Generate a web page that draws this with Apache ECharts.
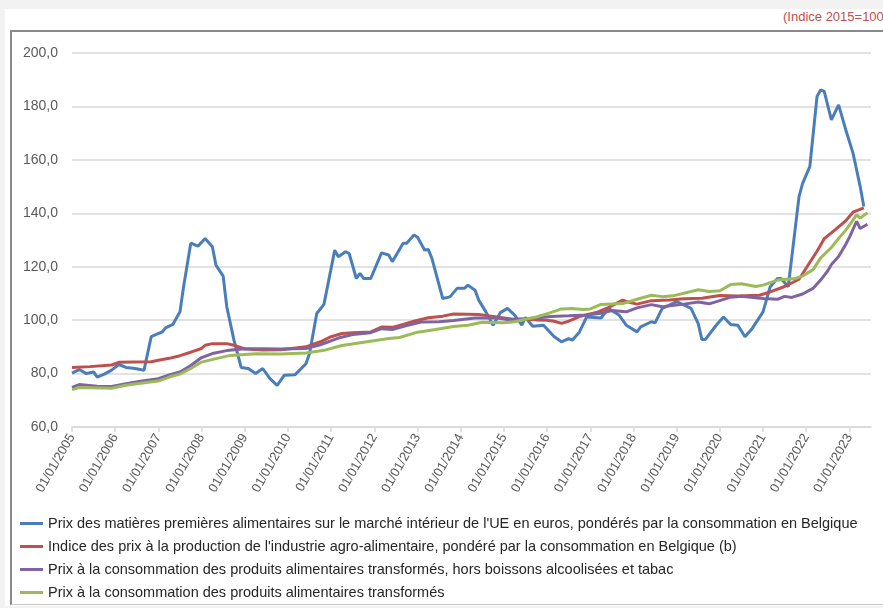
<!DOCTYPE html>
<html lang="fr">
<head>
<meta charset="utf-8">
<title>Indices des prix agro-alimentaires</title>
<script src="https://cdn.jsdelivr.net/npm/echarts@6/dist/echarts.min.js"></script>
<style>
  html, body { margin: 0; padding: 0; width: 883px; height: 608px; overflow: hidden; background: #f2f2f2; }
  #sheet { position: absolute; left: 5px; top: 9px; width: 900px; height: 597px; background: #fff; }
  #frame { position: absolute; left: 10px; top: 30px; width: 900px; height: 572px;
           border-top: 2px solid #8a8a8a; border-left: 2px solid #8a8a8a; border-bottom: 1px solid #c8c8c8; }
  #unit { position: absolute; left: 783px; top: 9px; font: 13px "Liberation Sans", sans-serif; color: #c0504d; white-space: nowrap; }
  #chart { position: absolute; left: 0; top: 0; width: 883px; height: 608px; }
</style>
</head>
<body>
<div id="sheet"></div>
<div id="frame"></div>
<div id="unit">(Indice 2015=100)</div>
<div id="chart"></div>
<script type="text/javascript">
// noms des séries
var names = [
    "Prix des matières premières alimentaires sur le marché intérieur de l'UE en euros, pondérés par la consommation en Belgique",
    "Indice des prix à la production de l'industrie agro-alimentaire, pondéré par la consommation en Belgique (b)",
    "Prix à la consommation des produits alimentaires transformés, hors boissons alcoolisées et tabac",
    "Prix à la consommation des produits alimentaires transformés"
];
var colors = ['#4a7ebb', '#c0504d', '#8064a2', '#9bbb59'];

// graduations de l'axe des dates (01/01/annee)
var yearTicks = [2005, 2006, 2007, 2008, 2009, 2010, 2011, 2012, 2013, 2014,
                 2015, 2016, 2017, 2018, 2019, 2020, 2021, 2022, 2023];

// matières premières (mois, indice)
var rawMat = [
    ['2005-01', 80.2], ['2005-03', 81.5], ['2005-05', 80.0], ['2005-07', 80.6], ['2005-08', 78.7],
    ['2005-10', 79.8], ['2005-12', 81.3], ['2006-02', 83.4], ['2006-04', 82.3], ['2006-06', 82.0],
    ['2006-08', 81.5], ['2006-09', 81.2], ['2006-11', 93.8], ['2007-01', 95.0], ['2007-02', 95.5],
    ['2007-03', 97.1], ['2007-05', 98.4], ['2007-07', 103.1], ['2007-08', 112.5], ['2007-10', 128.8],
    ['2007-12', 127.7], ['2008-02', 130.6], ['2008-04', 127.5], ['2008-05', 120.6], ['2008-07', 116.5],
    ['2008-08', 105.0], ['2008-10', 92.5], ['2008-12', 82.3], ['2009-02', 81.9], ['2009-04', 80.0],
    ['2009-06', 81.9], ['2009-08', 78.1], ['2009-10', 75.6], ['2009-12', 79.4], ['2010-03', 79.6],
    ['2010-06', 83.7], ['2010-07', 87.5], ['2010-09', 102.5], ['2010-11', 105.9], ['2011-02', 126.2],
    ['2011-03', 123.7], ['2011-05', 125.6], ['2011-06', 125.0], ['2011-08', 115.6], ['2011-09', 117.5],
    ['2011-10', 115.6], ['2011-12', 115.6], ['2012-03', 125.2], ['2012-05', 124.4], ['2012-06', 121.9],
    ['2012-09', 128.8], ['2012-10', 128.8], ['2012-12', 131.9], ['2013-01', 131.0], ['2013-03', 126.2],
    ['2013-04', 126.5], ['2013-05', 123.1], ['2013-08', 108.1], ['2013-10', 108.7], ['2013-12', 111.9],
    ['2014-02', 111.9], ['2014-03', 113.1], ['2014-05', 111.2], ['2014-06', 107.5], ['2014-08', 103.1],
    ['2014-10', 98.1], ['2014-12', 102.8], ['2015-02', 104.4], ['2015-04', 101.9], ['2015-06', 98.1],
    ['2015-07', 101.0], ['2015-09', 97.7], ['2015-12', 98.1], ['2016-03', 93.8], ['2016-05', 91.9],
    ['2016-07', 93.1], ['2016-08', 92.5], ['2016-10', 95.6], ['2016-12', 101.2], ['2017-02', 101.0],
    ['2017-04', 100.8], ['2017-06', 104.4], ['2017-09', 101.9], ['2017-11', 98.1], ['2018-02', 95.6],
    ['2018-03', 97.5], ['2018-06', 99.4], ['2018-07', 99.0], ['2018-09', 104.4], ['2018-11', 105.6],
    ['2019-01', 106.9], ['2019-05', 104.4], ['2019-07', 98.7], ['2019-08', 92.8], ['2019-09', 92.8],
    ['2019-12', 98.1], ['2020-02', 101.2], ['2020-04', 98.4], ['2020-06', 98.1], ['2020-08', 93.8],
    ['2020-10', 96.9], ['2021-01', 103.1], ['2021-03', 112.5], ['2021-05', 115.6], ['2021-06', 115.6],
    ['2021-08', 112.5], ['2021-09', 123.7], ['2021-11', 146.2], ['2021-12', 151.2], ['2022-02', 157.5],
    ['2022-04', 183.7], ['2022-05', 186.2], ['2022-06', 185.6], ['2022-08', 175.0], ['2022-10', 180.6],
    ['2022-12', 171.2], ['2023-02', 162.5], ['2023-04', 150.0], ['2023-05', 142.5]
];

// prix à la production
var production = [
    ['2005-01', 82.3], ['2005-06', 82.6], ['2005-12', 83.2], ['2006-02', 84.2], ['2006-06', 84.3],
    ['2006-11', 84.4], ['2007-01', 85.0], ['2007-04', 85.7], ['2007-07', 86.7], ['2007-10', 88.0],
    ['2008-01', 89.4], ['2008-02', 90.6], ['2008-04', 91.2], ['2008-08', 91.2], ['2008-10', 90.6],
    ['2009-01', 89.2], ['2009-06', 88.8], ['2009-11', 88.9], ['2010-02', 89.4], ['2010-06', 90.0],
    ['2010-10', 91.9], ['2011-01', 93.8], ['2011-04', 95.0], ['2011-07', 95.3], ['2011-12', 95.6],
    ['2012-03', 97.4], ['2012-06', 97.3], ['2012-09', 98.4], ['2012-12', 99.6], ['2013-04', 100.9],
    ['2013-08', 101.5], ['2013-11', 102.3], ['2014-03', 102.2], ['2014-06', 102.1], ['2014-09', 101.6],
    ['2014-12', 101.0], ['2015-03', 100.4], ['2015-06', 100.3], ['2015-10', 100.1], ['2016-01', 100.0],
    ['2016-03', 99.6], ['2016-05', 98.8], ['2016-07', 99.6], ['2016-10', 101.3], ['2016-12', 102.0],
    ['2017-03', 103.0], ['2017-06', 104.7], ['2017-10', 107.5], ['2017-11', 107.0], ['2018-02', 106.0],
    ['2018-06', 107.3], ['2018-11', 107.5], ['2019-03', 108.0], ['2019-08', 108.2], ['2020-01', 109.2],
    ['2020-06', 109.0], ['2020-12', 109.3], ['2021-03', 110.6], ['2021-07', 112.6], ['2021-11', 115.3],
    ['2022-01', 119.5], ['2022-04', 125.8], ['2022-06', 130.5], ['2022-09', 133.8], ['2022-12', 137.2],
    ['2023-02', 140.4], ['2023-05', 142.0]
];

// consommation hors boissons alcoolisées et tabac
var consoHors = [
    ['2005-01', 74.8], ['2005-03', 75.9], ['2005-08', 75.3], ['2005-12', 75.2], ['2006-04', 76.2],
    ['2006-08', 77.1], ['2007-01', 78.1], ['2007-04', 79.5], ['2007-07', 80.6], ['2007-10', 83.0],
    ['2008-01', 86.0], ['2008-04', 87.5], ['2008-08', 88.6], ['2009-01', 89.3], ['2009-06', 89.3],
    ['2009-11', 89.2], ['2010-06', 89.4], ['2010-10', 90.8], ['2011-03', 93.3], ['2011-07', 94.6],
    ['2011-12', 95.3], ['2012-03', 96.8], ['2012-06', 96.5], ['2012-10', 98.0], ['2013-02', 99.3],
    ['2013-07', 99.4], ['2013-11', 99.9], ['2014-05', 100.8], ['2014-11', 100.8], ['2015-02', 100.2],
    ['2015-08', 100.5], ['2016-02', 101.4], ['2016-07', 101.6], ['2016-12', 101.9], ['2017-04', 102.6],
    ['2017-07', 103.6], ['2017-11', 103.1], ['2018-02', 104.6], ['2018-06', 105.8], ['2018-09', 105.0],
    ['2019-03', 106.0], ['2019-07', 106.8], ['2019-10', 106.1], ['2020-01', 107.3], ['2020-04', 108.6],
    ['2020-07', 108.9], ['2020-11', 108.4], ['2021-01', 108.1], ['2021-05', 107.8], ['2021-07', 108.9],
    ['2021-09', 108.5], ['2021-12', 109.8], ['2022-03', 112.0], ['2022-05', 115.0], ['2022-07', 118.5],
    ['2022-08', 120.8], ['2022-10', 123.8], ['2022-12', 128.4], ['2023-01', 131.0], ['2023-03', 137.0],
    ['2023-04', 134.3], ['2023-06', 135.9]
];

// consommation produits transformés
var consoTotal = [
    ['2005-01', 74.0], ['2005-03', 74.8], ['2005-12', 74.5], ['2006-04', 75.6], ['2006-08', 76.4],
    ['2007-01', 77.2], ['2007-04', 78.7], ['2007-07', 79.8], ['2007-10', 81.9], ['2008-01', 84.3],
    ['2008-05', 85.6], ['2008-09', 86.8], ['2009-04', 87.4], ['2009-11', 87.3], ['2010-06', 87.7],
    ['2010-11', 88.7], ['2011-04', 90.5], ['2011-11', 91.9], ['2012-05', 93.1], ['2012-08', 93.5],
    ['2013-01', 95.5], ['2013-06', 96.5], ['2013-11', 97.6], ['2014-03', 98.1], ['2014-07', 99.2],
    ['2015-01', 99.0], ['2015-04', 99.4], ['2015-08', 100.6], ['2015-10', 101.2], ['2016-02', 102.8],
    ['2016-05', 104.2], ['2016-08', 104.4], ['2016-11', 104.0], ['2017-01', 104.2], ['2017-04', 105.9],
    ['2017-10', 106.2], ['2018-02', 107.8], ['2018-06', 109.3], ['2018-09', 108.8], ['2018-12', 109.1],
    ['2019-07', 111.4], ['2019-10', 110.7], ['2020-01', 111.0], ['2020-04', 113.3], ['2020-07', 113.6],
    ['2020-11', 112.6], ['2021-01', 113.1], ['2021-05', 115.0], ['2021-10', 115.6], ['2021-12', 116.5],
    ['2022-03', 119.0], ['2022-05', 123.3], ['2022-08', 127.2], ['2022-10', 130.6], ['2022-12', 133.7],
    ['2023-01', 135.6], ['2023-03', 139.4], ['2023-04', 138.2], ['2023-06', 140.2]
];

// 'AAAA-MM' -> annee decimale pour l'axe
function toPoints(arr) {
    return arr.map(function (d) {
        var y = parseInt(d[0].slice(0, 4), 10);
        var m = parseInt(d[0].slice(5, 7), 10);
        return [y + (m - 1) / 12, d[1]];
    });
}

var font = '"Liberation Sans", Arial, sans-serif';
var allData = [rawMat, production, consoHors, consoTotal];

var series = allData.map(function (d, i) {
    return {
        name: names[i],
        type: 'line',
        data: toPoints(d),
        showSymbol: false,
        symbol: 'none',
        lineStyle: { color: colors[i], width: 3 },
        itemStyle: { color: colors[i] },
        emphasis: { disabled: true }
    };
});

var chart = echarts.init(document.getElementById('chart'));
chart.setOption({
    animation: false,
    textStyle: { fontFamily: font },
    grid: { left: 72, right: 12, top: 53, bottom: 181 },
    legend: {
        orient: 'vertical',
        left: 15,
        top: 511,
        itemWidth: 23,
        itemHeight: 3,
        itemGap: 8,
        icon: 'rect',
        data: names,
        textStyle: { fontFamily: font, fontSize: 14.5, color: '#262626' }
    },
    xAxis: {
        type: 'value',
        min: 2005,
        max: 2023.5,
        interval: 1,
        axisLine: { lineStyle: { color: '#d9d9d9', width: 1.5 } },
        axisTick: { show: true, length: 5, customValues: yearTicks, lineStyle: { color: '#d9d9d9', width: 1.5 } },
        splitLine: { show: false },
        axisLabel: {
            customValues: yearTicks,
            rotate: 60,
            margin: 8,
            fontSize: 13,
            color: '#595959',
            fontFamily: font,
            formatter: function (v) { return '01/01/' + v; }
        }
    },
    yAxis: {
        type: 'value',
        min: 60,
        max: 200,
        interval: 20,
        axisLine: { show: false },
        axisTick: { show: false },
        splitLine: { lineStyle: { color: '#d9d9d9', width: 1.5 } },
        axisLabel: {
            margin: 14,
            fontSize: 14,
            color: '#595959',
            fontFamily: font,
            formatter: function (v) { return v.toFixed(1).replace('.', ','); }
        }
    },
    series: series
});
</script>
</body>
</html>
